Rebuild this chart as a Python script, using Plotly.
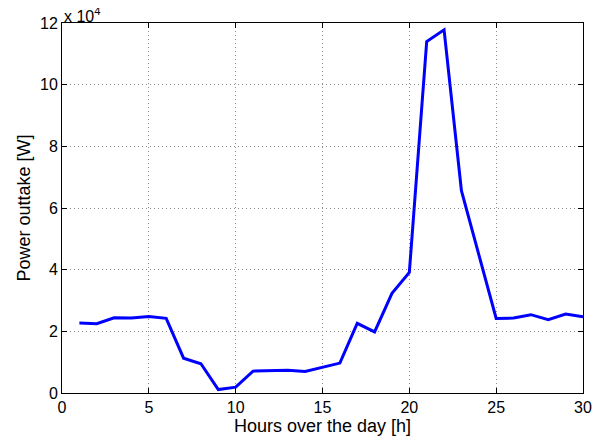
import plotly.graph_objects as go

hours = list(range(1, 31))
power_w = [22700, 22500, 24400, 24300, 24800, 24200, 11300, 9500, 1100, 1900,
           7100, 7300, 7400, 7000, 8300, 9700, 22600, 19800, 32300, 39100,
           114000, 117800, 65600, 45000, 24200, 24300, 25400, 23800, 25600, 24700]

x_ticks = [0, 5, 10, 15, 20, 25, 30]
y_ticks = [0, 20000, 40000, 60000, 80000, 100000, 120000]
y_tick_labels = ["0", "2", "4", "6", "8", "10", "12"]

FONT = "Liberation Sans, Arial, Helvetica, sans-serif"

fig = go.Figure()
fig.add_trace(go.Scatter(x=hours, y=power_w, mode="lines",
                         line=dict(color="#0000ff", width=3)))

axis_common = dict(showline=True, linecolor="black", linewidth=1, mirror="ticks",
                   ticks="inside", ticklen=5, tickcolor="black", automargin=False,
                   showgrid=True, gridcolor="#8c8c8c", griddash="1px,3px", gridwidth=1,
                   zeroline=False, tickfont=dict(family=FONT, size=16, color="black"))

fig.update_layout(
    width=608, height=441,
    paper_bgcolor="white", plot_bgcolor="white",
    margin=dict(l=54, r=33, t=15, b=56),
    showlegend=False,
    xaxis=dict(range=[0, 30], tickvals=x_ticks,
               title=dict(text="Hours over the day [h]", font=dict(family=FONT, size=18, color="black"), standoff=0),
               **axis_common),
    yaxis=dict(range=[0, 120000], tickvals=y_ticks, ticktext=y_tick_labels,
               title=dict(text="Power outtake [W]", font=dict(family=FONT, size=18, color="black"), standoff=4),
               **axis_common),
    annotations=[dict(text="x 10<sup>4</sup>", x=0, y=1, xref="paper", yref="paper",
                      xanchor="left", yanchor="bottom", showarrow=False, yshift=-4,
                      font=dict(family=FONT, size=16, color="black"))],
)

fig.write_html("out.html")
